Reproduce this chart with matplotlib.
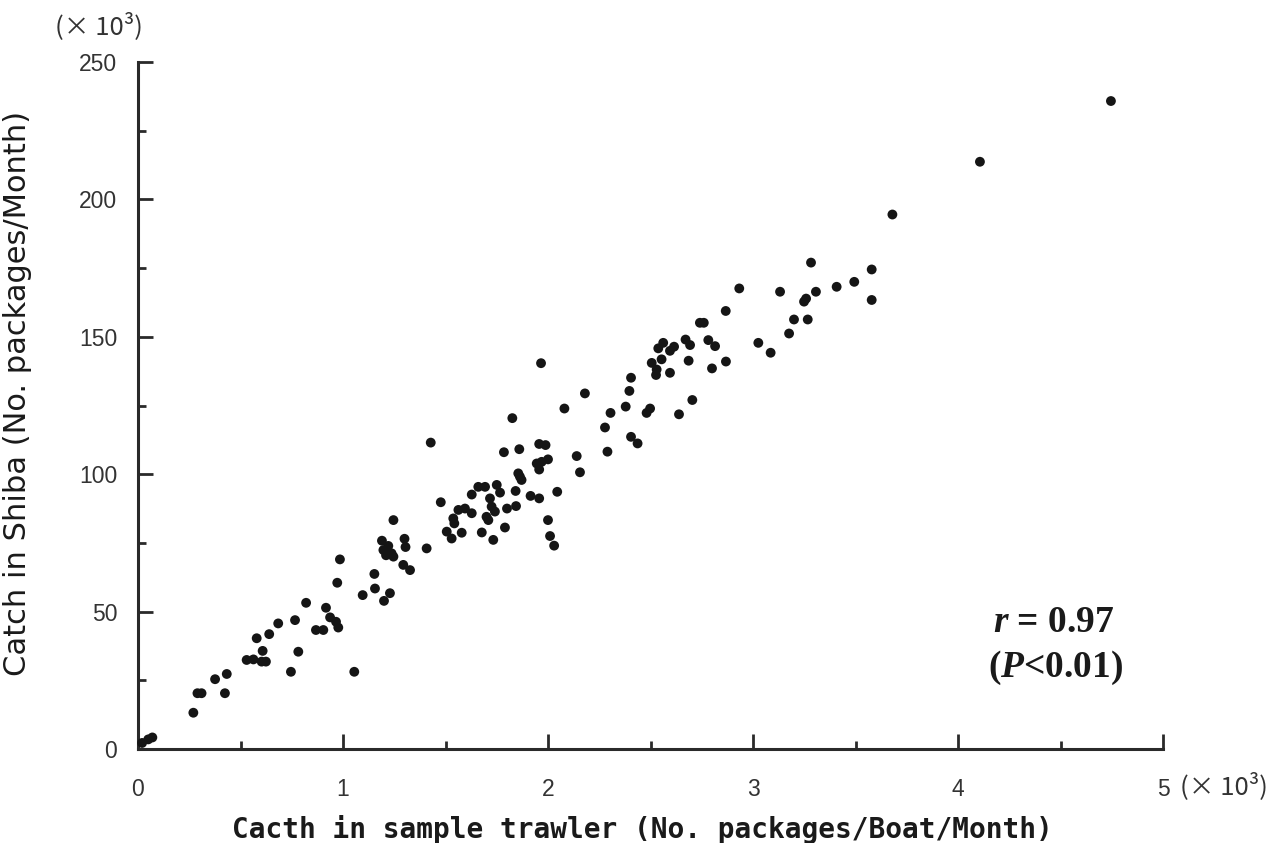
import matplotlib
matplotlib.use("Agg")
import matplotlib.pyplot as plt
from matplotlib.ticker import MultipleLocator

# Catch in sample trawler (x10^3 packages/boat/month)
trawler = [0.02, 0.05, 0.07, 0.27, 0.29, 0.31, 0.376, 0.424, 0.433, 0.53, 0.563, 0.579,
           0.603, 0.608, 0.624, 0.64, 0.684, 0.746, 0.766, 0.782, 0.82, 0.868, 0.904,
           0.917, 0.937, 0.966, 0.977, 0.972, 0.985, 1.055, 1.096, 1.153, 1.156, 1.19,
           1.197, 1.2, 1.21, 1.221, 1.229, 1.237, 1.246, 1.246, 1.294, 1.30, 1.305,
           1.327, 1.408, 1.428, 1.477, 1.506, 1.53, 1.538, 1.543, 1.563, 1.579, 1.595,
           1.628, 1.628, 1.66, 1.677, 1.693, 1.70, 1.709, 1.717, 1.725, 1.733, 1.741,
           1.75, 1.766, 1.785, 1.79, 1.80, 1.826, 1.842, 1.844, 1.855, 1.86, 1.863,
           1.871, 1.915, 1.945, 1.957, 1.957, 1.957, 1.966, 1.969, 1.988, 2.0, 2.0,
           2.01, 2.03, 2.045, 2.08, 2.14, 2.156, 2.18, 2.278, 2.29, 2.305, 2.379,
           2.397, 2.405, 2.405, 2.437, 2.481, 2.498, 2.506, 2.527, 2.530, 2.538,
           2.554, 2.562, 2.595, 2.595, 2.615, 2.639, 2.671, 2.686, 2.693, 2.704,
           2.741, 2.76, 2.782, 2.80, 2.815, 2.867, 2.868, 2.933, 3.026, 3.086, 3.132,
           3.176, 3.2, 3.249, 3.259, 3.267, 3.283, 3.307, 3.408, 3.494, 3.579, 3.579,
           3.68, 4.107, 4.746]
# Catch in Shiba (x10^3 packages/month)
shiba = [2.2, 3.5, 4.2, 13.2, 20.3, 20.3, 25.4, 20.3, 27.3, 32.4, 32.6, 40.3,
         31.8, 35.7, 31.8, 41.8, 45.7, 28.1, 46.9, 35.4, 53.2, 43.3, 43.3,
         51.4, 47.9, 46.3, 44.2, 60.5, 69.0, 28.1, 56.0, 63.7, 58.4, 75.8,
         72.4, 53.9, 70.5, 73.9, 56.7, 71.2, 70.0, 83.3, 67.0, 76.5, 73.5,
         65.1, 73.0, 111.5, 89.8, 79.1, 76.6, 83.9, 82.1, 87.0, 78.7, 87.5,
         85.8, 92.6, 95.4, 78.8, 95.4, 84.5, 83.3, 91.2, 88.2, 76.1, 86.4,
         96.1, 93.3, 108.0, 80.6, 87.5, 120.4, 93.9, 88.4, 100.3, 109.1, 99.1,
         97.9, 92.1, 103.9, 91.2, 101.7, 111.0, 140.4, 104.5, 110.6, 105.4, 83.3,
         77.5, 74.0, 93.6, 123.9, 106.6, 100.7, 129.4, 117.0, 108.2, 122.3, 124.6,
         130.3, 135.1, 113.6, 111.2, 122.3, 123.9, 140.5, 136.1, 138.1, 145.8,
         141.8, 147.8, 144.9, 136.9, 146.4, 121.8, 149.0, 141.3, 147.0, 127.0,
         155.1, 155.1, 148.8, 138.5, 146.6, 159.4, 141.0, 167.6, 147.8, 144.2, 166.4,
         151.2, 156.3, 162.8, 163.9, 156.3, 177.0, 166.4, 168.2, 170.0, 174.5, 163.4,
         194.5, 213.7, 235.8]

x_ticks = [0, 1, 2, 3, 4, 5]
y_ticks = [0, 50, 100, 150, 200, 250]
xlabel = "Cacth in sample trawler (No. packages/Boat/Month)"
ylabel = "Catch in Shiba (No. packages/Month)"
unit = "(\u00d7 10\u00b3)"

plt.rcParams['mathtext.fontset'] = 'custom'
plt.rcParams['mathtext.it'] = 'Liberation Serif:bold:italic'
plt.rcParams['mathtext.rm'] = 'Liberation Serif:bold'

W, H = 1285, 843
fig = plt.figure(figsize=(W / 100, H / 100), dpi=100)
ax = fig.add_axes([138 / W, 1 - 749 / H, (1163 - 138) / W, (749 - 62) / H])

ax.scatter(trawler, shiba, s=50, color='#151515', edgecolors='none', clip_on=False, zorder=3)

ax.set_xlim(0, 5)
ax.set_ylim(0, 250)
ax.set_xticks(x_ticks)
ax.set_yticks(y_ticks)
ax.xaxis.set_minor_locator(MultipleLocator(0.5))
ax.yaxis.set_minor_locator(MultipleLocator(25))

for s in ['top', 'right']:
    ax.spines[s].set_visible(False)
for s in ['left', 'bottom']:
    ax.spines[s].set_linewidth(2.2)
    ax.spines[s].set_color('#2a2a2a')

ax.tick_params(which='major', direction='in', length=11, width=2.0, color='#2a2a2a')
ax.tick_params(which='minor', direction='in', length=5.5, width=2.0, color='#2a2a2a')
ax.tick_params(axis='x', which='major', pad=21)
ax.tick_params(axis='y', which='major', pad=15)
for lab in ax.get_xticklabels() + ax.get_yticklabels():
    lab.set_fontfamily('Liberation Sans')
    lab.set_fontsize(16.5)
    lab.set_color('#333333')

# unit labels
unit_family = ['Noto Sans CJK JP', 'DejaVu Sans']
fig.text(55 / W, 1 - 26 / H, unit, fontsize=18.5, family=unit_family,
         color='#333333', ha='left', va='center')
fig.text(1180 / W, 1 - 786 / H, unit, fontsize=18.5, family=unit_family,
         color='#333333', ha='left', va='center')

# axis titles
fig.text(642 / W, 1 - 829 / H, xlabel, fontsize=20, family='DejaVu Sans Mono',
         fontweight='bold', color='#1a1a1a', ha='center', va='center')
fig.text(18 / W, 1 - 393 / H, ylabel, fontsize=22, family='DejaVu Sans',
         color='#1a1a1a', ha='center', va='center', rotation=90)

# correlation annotation
fig.text(1054 / W, 1 - 622 / H, "$r$ = 0.97", fontsize=27, family='Liberation Serif',
         fontweight='bold', color='#1a1a1a', ha='center', va='center')
fig.text(1056 / W, 1 - 668 / H, "($P$<0.01)", fontsize=27, family='Liberation Serif',
         fontweight='bold', color='#1a1a1a', ha='center', va='center')

fig.savefig("out.png", dpi=100, facecolor='white')
